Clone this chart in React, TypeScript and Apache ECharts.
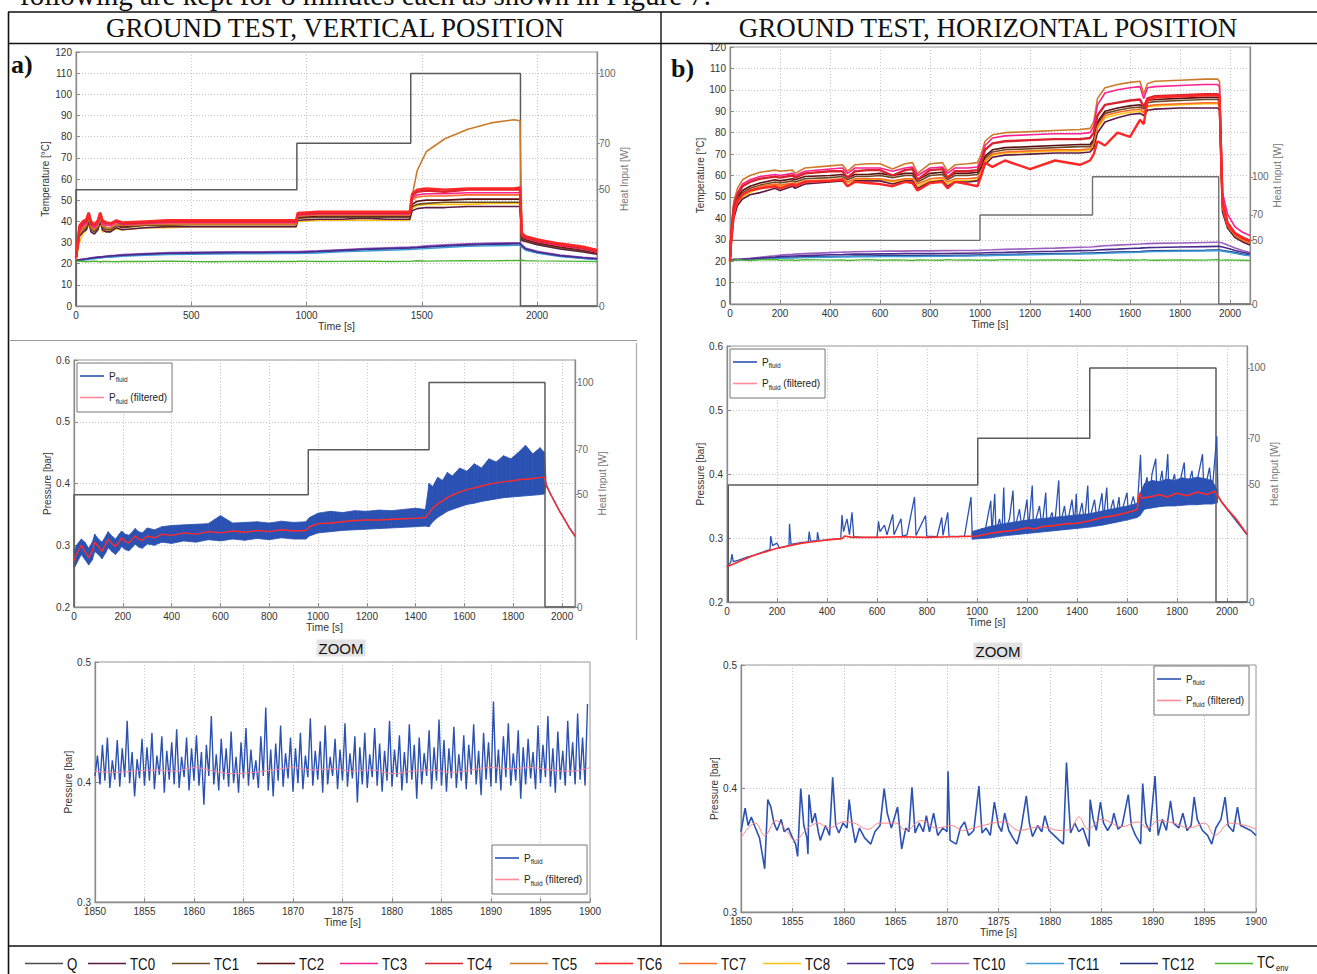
import React, { useEffect, useRef } from 'react';
import * as echarts from 'echarts';

const FONT = "'Liberation Sans', Arial, Helvetica, sans-serif";
const SERIF = "'Liberation Serif', 'Times New Roman', serif";

// ---------------- tick labels / categories ----------------
const HEAT_TICKS = [0, 50, 70, 100];
const LEGEND_NAMES = ['Q', 'TC0', 'TC1', 'TC2', 'TC3', 'TC4', 'TC5', 'TC6', 'TC7', 'TC8', 'TC9', 'TC10', 'TC11', 'TC12', 'TCenv'];

// ---------------- panel a (vertical, temperatures) ----------------
const QA_T = [0, 0, 958, 958, 1452, 1452, 1928, 1928, 2260];
const QA_V = [0, 50, 50, 70, 70, 100, 100, 0, 0];
const TA = [0, 15, 30, 45, 55, 65, 80, 95, 105, 115, 130, 150, 175, 200, 300, 400, 500, 600, 700, 800, 900, 955, 962, 1050, 1150, 1250, 1350, 1448, 1458, 1480, 1520, 1600, 1700, 1800, 1900, 1926, 1934, 1950, 2000, 2100, 2200, 2260];
const A_TC0 = [22, 33, 35, 36, 40, 35, 34, 36, 40, 36, 35, 35, 37, 36, 37, 37.5, 37.5, 37.5, 37.5, 37.5, 37.5, 37.5, 40.5, 41, 41, 41.5, 41, 41, 45, 46, 46.5, 46.5, 47, 47, 47, 47, 31, 30.5, 29, 27, 25.5, 24.5];
const A_TC1 = [22, 34, 36, 37, 41, 36, 35, 37, 41, 37, 36, 36, 38, 37, 38, 38, 38.5, 38.5, 38.5, 38.5, 38.5, 38.5, 41.5, 42, 42, 42, 42, 42, 47, 48, 48.5, 49, 49, 49, 49, 49, 32, 31, 29.5, 27.5, 26, 25];
const A_TC2 = [22, 35, 37, 38, 42, 37, 36, 38, 42, 38, 37, 37, 38.5, 37.5, 38.5, 38.5, 39, 39, 39, 39, 39, 39, 42, 42.5, 42.5, 42.5, 42.5, 42.5, 48, 49.5, 50, 50, 50.5, 50.5, 50.5, 50.5, 32.5, 31.5, 30, 28, 26.5, 25];
const A_TC3 = [23, 36, 38, 39, 43, 38, 37, 39, 43, 39, 38, 38, 39.5, 38.5, 39, 39.5, 39.5, 39.5, 39.5, 39.5, 39.5, 39.5, 43, 43.5, 43.5, 43.5, 43.5, 43.5, 51, 52.5, 53, 53, 53.5, 53.5, 53.5, 53.5, 33, 32, 30.5, 28.5, 27, 25.5];
const A_TC4 = [23, 37, 39, 40, 44, 39, 38, 40, 44, 40, 39, 39, 40, 39, 39.5, 40, 40, 40, 40, 40, 40, 40, 43.5, 44, 44, 44, 44, 44, 52, 54, 54.5, 54, 55, 55, 55, 55, 33.5, 32.5, 31, 29, 27.5, 26];
const A_TC5 = [22, 34, 36.5, 38, 42, 37, 36, 38, 42, 38, 37, 37, 38.5, 38, 38.5, 38.5, 38.5, 38.5, 38.5, 38.5, 38.5, 38.5, 42.5, 43, 43, 43, 43, 43, 52, 64, 73, 79, 83.5, 86.5, 88, 87.5, 35, 33, 31.5, 29, 27, 25.5];
const A_TC6 = [23, 38, 40, 41, 44, 40, 38.5, 40.5, 44, 40.5, 39.5, 39, 40.5, 39.5, 40, 40.5, 40.5, 40.5, 40.5, 40.5, 40.5, 40.5, 44, 44.5, 44.5, 44.5, 44.5, 44.5, 53, 55, 55.5, 55, 55.5, 55.5, 55.5, 56, 34, 33, 31.5, 29.5, 28, 26.5];
const A_TC7 = [22, 35, 37, 38.5, 42, 37.5, 36.5, 38, 42, 38, 37, 37, 38.5, 38, 38.5, 39, 39, 39, 39, 39, 39, 39, 42.5, 43, 43, 43, 43, 43, 50, 51.5, 52, 52, 52.5, 52.5, 52.5, 52.5, 33, 32, 30.5, 28.5, 27, 25.5];
const A_TC8 = [22, 30, 34, 36, 38, 41, 35, 36, 41, 35, 35.5, 35.5, 36.5, 36, 37, 37, 37.5, 37.5, 37.5, 37.5, 37.5, 37.5, 40, 40.5, 40.5, 40.5, 40.5, 40.5, 46, 47.5, 48, 48, 48, 48.5, 48.5, 48.5, 32, 31, 29.5, 27.5, 26, 25];
const A_TC9 = [21.5, 21.8, 22, 22.2, 22.4, 22.6, 22.8, 23, 23.1, 23.2, 23.4, 23.6, 23.8, 24, 24.5, 24.9, 25.1, 25.2, 25.3, 25.3, 25.4, 25.4, 25.4, 25.8, 26.3, 26.8, 27.2, 27.5, 27.6, 27.7, 28, 28.5, 29, 29.3, 29.5, 29.5, 28.5, 27, 25.5, 23.8, 22.8, 22.3];
const A_TC10 = [21.6, 21.9, 22.2, 22.4, 22.6, 22.8, 23, 23.2, 23.3, 23.4, 23.6, 23.8, 24, 24.3, 24.8, 25.2, 25.4, 25.5, 25.6, 25.6, 25.7, 25.7, 25.7, 26.1, 26.6, 27.1, 27.5, 27.8, 27.9, 28, 28.4, 28.9, 29.4, 29.7, 29.9, 29.9, 29, 27.4, 25.9, 24.1, 23, 22.5];
const A_TC11 = [21.3, 21.5, 21.7, 21.9, 22, 22.2, 22.4, 22.6, 22.7, 22.8, 23, 23.1, 23.3, 23.5, 24, 24.3, 24.5, 24.6, 24.7, 24.7, 24.8, 24.8, 24.8, 25.1, 25.6, 26, 26.4, 26.7, 26.8, 26.9, 27.2, 27.7, 28.2, 28.5, 28.7, 28.7, 27.8, 26.4, 25, 23.4, 22.5, 22];
const A_TC12 = [21.5, 21.7, 21.9, 22.1, 22.3, 22.5, 22.7, 22.9, 23, 23.1, 23.3, 23.5, 23.7, 23.9, 24.4, 24.8, 25, 25.1, 25.2, 25.2, 25.3, 25.3, 25.3, 25.7, 26.2, 26.7, 27.1, 27.4, 27.5, 27.6, 27.9, 28.4, 28.9, 29.2, 29.4, 29.4, 28.3, 26.8, 25.3, 23.6, 22.6, 22.1];
const A_TCENV = [21, 21.2, 21, 20.9, 21.1, 21, 21.2, 21, 20.8, 21, 21.1, 21, 20.9, 21.1, 21, 21.2, 21, 20.9, 21.1, 21, 21.1, 21, 21.2, 21, 21.1, 21.2, 21, 21.1, 21.2, 21.4, 21.2, 21.3, 21.4, 21.3, 21.5, 21.5, 21.6, 21.4, 21.3, 21.2, 21.1, 21.0];

// ---------------- panel b (horizontal, temperatures) ----------------
const QB_T = [0, 0, 1000, 1000, 1450, 1450, 1955, 1955, 2080];
const QB_V = [0, 50, 50, 70, 70, 100, 100, 0, 0];
const TB = [0, 5, 15, 30, 50, 80, 120, 180, 200, 250, 260, 300, 400, 450, 470, 500, 550, 600, 650, 700, 730, 750, 800, 850, 870, 900, 950, 990, 1005, 1020, 1050, 1100, 1200, 1300, 1400, 1440, 1455, 1470, 1500, 1550, 1600, 1640, 1655, 1670, 1700, 1800, 1900, 1950, 1958, 1970, 1990, 2020, 2050, 2080];
const B_TC0 = [20, 28, 40, 46, 49, 51, 52, 54, 53, 55, 54, 56, 57, 57.5, 55, 57.5, 57.5, 57.5, 56, 57.5, 57.5, 54, 57, 57.5, 55, 57, 57, 57.5, 60, 65, 68.5, 69.5, 70, 70.5, 70.5, 71, 73, 80, 85, 87, 88.5, 89, 88, 90.5, 91, 91.5, 91.5, 91.5, 90.5, 43, 35.5, 31, 29, 27.5];
const B_TC1 = [20, 31, 43, 49, 52, 54, 55.5, 57, 56.5, 57.5, 57, 58.5, 59, 59.5, 58, 59.5, 59.5, 60, 59, 60, 60, 57, 60, 60.5, 58, 60, 60, 60.5, 63, 68, 71, 72, 72.5, 73, 73.5, 73.5, 76, 84, 89, 90.5, 91.5, 92, 91, 94, 94.5, 95, 95.5, 95.5, 94.5, 45, 36.5, 32, 30, 28.5];
const B_TC2 = [20, 32, 44, 50, 53, 55, 56.5, 58, 57.5, 58.5, 58, 59.5, 60, 60.5, 59, 60.5, 60.5, 61, 60, 61, 61, 58, 61, 61.5, 59, 61, 61, 61.5, 64, 69, 72, 73, 73.5, 74, 74.5, 74.5, 77, 85, 90, 91.5, 92.5, 93, 92, 95, 95.5, 96, 96.5, 96.5, 95.5, 46, 37, 32.5, 30.5, 29];
const B_TC3 = [20, 34, 46, 52, 56, 58, 59.5, 60.5, 60, 61, 60, 62, 63, 63.5, 61, 63.5, 63.5, 63.5, 62, 63.5, 64, 60, 63.5, 64, 61, 63.5, 63.5, 64, 68, 74, 77.5, 78.5, 79, 79.5, 79.5, 80, 83, 93, 98.5, 100, 101, 101.5, 96, 101, 101.5, 102, 102.5, 102.5, 101.5, 52, 42, 36, 33.5, 32];
const B_TC4 = [20, 33, 45, 51, 55, 57, 58.5, 59.5, 59, 60, 59, 61, 62, 62, 59, 62, 62.5, 62.5, 60, 62.5, 63, 58, 62.5, 63, 59, 62, 62, 62.5, 66, 72, 75, 76, 76.5, 77, 77, 77.5, 80, 88, 93, 94, 95, 95.5, 92, 96, 97, 97.5, 98, 98, 97, 48, 38, 33, 31, 29.5];
const B_TC5 = [20, 35, 48, 54, 58, 60, 61.5, 62.5, 62, 62.5, 61, 63.5, 64.5, 65, 62, 65, 65.5, 65.5, 63, 65.5, 66, 61, 65.5, 66, 62, 65, 65.5, 66, 70, 76, 79, 80, 80.5, 81, 81.5, 82, 85, 96, 101, 102.5, 103.5, 104, 98, 103, 104, 104.5, 105, 105, 104, 48, 38, 33, 31, 29.5];
const B_TC6 = [20, 30, 42, 48, 51, 53, 54, 55, 54, 56, 55, 57, 57.5, 58, 55, 57, 56.5, 56, 55, 57, 56.5, 53, 56.5, 57, 54, 57, 56, 55, 60, 66, 64, 67, 63, 67, 65, 67, 70, 76, 74, 80, 78, 86, 84, 95, 96.5, 97, 97.5, 97.5, 96.5, 47, 37.5, 33, 31, 29.5];
const B_TC7 = [20, 30, 42, 48, 51, 53, 55, 56, 55.5, 56.5, 56, 57.5, 58, 58.5, 57, 58.5, 58.5, 58.5, 57.5, 58.5, 58.5, 56, 58.5, 59, 57, 58.5, 58.5, 59, 62, 67, 70, 71, 71.5, 72, 72, 72.5, 75, 83, 88, 89.5, 90.5, 91, 89.5, 92.5, 93, 93.5, 94, 94, 93, 45, 36.5, 32, 30, 28.5];
const B_TC8 = [20, 29, 41, 47, 50, 52, 54, 55.5, 55, 56, 55.5, 57, 57.5, 58, 56.5, 58, 58, 58, 57, 58, 58, 55, 57.5, 58, 56, 57.5, 57.5, 58, 61, 66, 69.5, 70.5, 71, 71.5, 71.5, 72, 74, 82, 87, 88.5, 89.5, 90, 89, 92, 92.5, 93, 93.5, 93.5, 92.5, 44, 36, 31.5, 29.5, 28];
const B_TC9 = [20.5, 20.6, 20.7, 20.8, 20.9, 21.1, 21.4, 21.9, 22.1, 22.4, 22.4, 22.6, 23, 23.1, 23.2, 23.3, 23.3, 23.4, 23.4, 23.5, 23.5, 23.5, 23.5, 23.6, 23.6, 23.7, 23.7, 23.8, 23.8, 23.9, 24, 24.1, 24.4, 24.6, 24.9, 25, 25, 25.2, 25.4, 25.6, 25.9, 26.1, 26.2, 26.3, 26.4, 26.6, 26.8, 26.9, 26.9, 26.6, 26, 25, 24.2, 23.5];
const B_TC10 = [20.5, 20.6, 20.7, 20.8, 21, 21.3, 21.8, 22.5, 22.8, 23.2, 23.3, 23.5, 24, 24.2, 24.3, 24.4, 24.5, 24.6, 24.7, 24.7, 24.8, 24.8, 24.8, 24.9, 24.9, 25, 25, 25, 25.1, 25.2, 25.3, 25.5, 25.8, 26.1, 26.5, 26.6, 26.7, 26.9, 27.2, 27.5, 27.8, 28, 28.1, 28.2, 28.3, 28.5, 28.7, 28.8, 28.8, 28.5, 27.5, 26.2, 25, 24];
const B_TC11 = [20.4, 20.5, 20.6, 20.7, 20.8, 20.9, 21, 21.3, 21.4, 21.5, 21.5, 21.7, 21.9, 22, 22, 22.1, 22.1, 22.2, 22.2, 22.2, 22.2, 22.2, 22.3, 22.3, 22.3, 22.4, 22.4, 22.5, 22.5, 22.6, 22.7, 22.8, 23, 23.2, 23.4, 23.5, 23.5, 23.6, 23.7, 23.9, 24.1, 24.2, 24.3, 24.4, 24.5, 24.7, 24.8, 24.9, 24.9, 24.7, 24.3, 23.7, 23, 22.5];
const B_TC12 = [20.5, 20.6, 20.7, 20.8, 20.9, 21, 21.2, 21.5, 21.6, 21.8, 21.8, 22, 22.2, 22.3, 22.3, 22.4, 22.4, 22.5, 22.5, 22.5, 22.5, 22.5, 22.6, 22.6, 22.6, 22.7, 22.7, 22.8, 22.8, 22.9, 23, 23.1, 23.3, 23.5, 23.7, 23.8, 23.8, 23.9, 24, 24.2, 24.4, 24.5, 24.6, 24.7, 24.8, 25, 25.1, 25.2, 25.2, 25, 24.6, 24, 23.3, 22.8];
const B_TCENV = [20.5, 20.6, 20.4, 20.7, 20.5, 20.3, 20.6, 20.8, 20.4, 20.6, 20.3, 20.7, 20.5, 20.6, 20.3, 20.5, 20.7, 20.4, 20.6, 20.5, 20.3, 20.6, 20.5, 20.4, 20.7, 20.5, 20.6, 20.4, 20.5, 20.6, 20.4, 20.7, 20.5, 20.6, 20.4, 20.5, 20.6, 20.5, 20.7, 20.4, 20.6, 20.5, 20.7, 20.5, 20.4, 20.6, 20.5, 20.7, 20.6, 20.5, 20.6, 20.5, 20.4, 20.3];

// ---------------- panel c (vertical, pressure) ----------------
const QC_T = [0, 0, 960, 960, 1455, 1455, 1930, 1930, 2053];
const QC_V = [0, 50, 50, 70, 70, 100, 100, 0, 0];
const PC_T = [0, 10, 30, 45, 60, 75, 85, 100, 115, 130, 140, 155, 170, 185, 195, 210, 225, 240, 250, 265, 280, 300, 330, 360, 400, 450, 500, 550, 600, 650, 700, 750, 800, 850, 900, 950, 965, 1000, 1050, 1100, 1150, 1200, 1250, 1300, 1350, 1400, 1440, 1455, 1470, 1490, 1510, 1530, 1550, 1580, 1610, 1640, 1670, 1700, 1730, 1760, 1790, 1820, 1850, 1880, 1910, 1928, 1935, 1950, 1970, 1990, 2010, 2030, 2053];
const PC_FILT = [0.275, 0.285, 0.30, 0.29, 0.28, 0.29, 0.305, 0.298, 0.29, 0.302, 0.31, 0.303, 0.298, 0.305, 0.312, 0.306, 0.304, 0.31, 0.315, 0.31, 0.308, 0.315, 0.312, 0.318, 0.316, 0.32, 0.318, 0.322, 0.32, 0.323, 0.321, 0.324, 0.322, 0.325, 0.323, 0.324, 0.33, 0.335, 0.336, 0.338, 0.34, 0.341, 0.341, 0.342, 0.343, 0.344, 0.345, 0.352, 0.36, 0.367, 0.372, 0.377, 0.381, 0.386, 0.39, 0.393, 0.396, 0.399, 0.401, 0.403, 0.404, 0.406, 0.407, 0.408, 0.41, 0.41, 0.398, 0.385, 0.37, 0.355, 0.342, 0.328, 0.315];
const PC_UP = [0.29, 0.30, 0.31, 0.305, 0.295, 0.305, 0.318, 0.31, 0.305, 0.315, 0.322, 0.315, 0.31, 0.318, 0.323, 0.318, 0.316, 0.322, 0.327, 0.322, 0.32, 0.328, 0.325, 0.33, 0.332, 0.333, 0.334, 0.335, 0.348, 0.336, 0.337, 0.338, 0.336, 0.339, 0.337, 0.338, 0.345, 0.352, 0.355, 0.353, 0.356, 0.355, 0.357, 0.356, 0.358, 0.36, 0.358, 0.40, 0.395, 0.41, 0.405, 0.418, 0.412, 0.425, 0.42, 0.432, 0.425, 0.44, 0.435, 0.445, 0.44, 0.45, 0.462, 0.448, 0.458, 0.45, 0.40, 0.386, 0.371, 0.356, 0.343, 0.329, 0.316];
const PC_LO = [0.262, 0.27, 0.285, 0.277, 0.268, 0.276, 0.29, 0.285, 0.278, 0.288, 0.296, 0.29, 0.285, 0.292, 0.298, 0.293, 0.291, 0.297, 0.302, 0.297, 0.295, 0.302, 0.30, 0.305, 0.303, 0.307, 0.305, 0.309, 0.307, 0.31, 0.308, 0.311, 0.309, 0.312, 0.31, 0.31, 0.315, 0.32, 0.322, 0.324, 0.325, 0.326, 0.327, 0.328, 0.329, 0.33, 0.331, 0.33, 0.338, 0.345, 0.35, 0.355, 0.358, 0.362, 0.366, 0.368, 0.371, 0.373, 0.375, 0.377, 0.378, 0.379, 0.38, 0.381, 0.382, 0.383, 0.396, 0.384, 0.369, 0.354, 0.341, 0.327, 0.314];

// ---------------- panel d (horizontal, pressure) ----------------
const QD_T = [5, 5, 1003, 1003, 1451, 1451, 1956, 1956, 2080];
const QD_V = [0, 50, 50, 70, 70, 100, 100, 0, 0];
const PD_RAW = [[0, 0.255], [15, 0.262], [20, 0.275], [25, 0.263], [50, 0.266], [80, 0.27], [100, 0.272], [150, 0.279], [172, 0.282], [175, 0.303], [182, 0.288], [200, 0.292], [210, 0.284], [248, 0.288], [250, 0.322], [256, 0.29], [300, 0.293], [325, 0.294], [329, 0.31], [334, 0.295], [360, 0.296], [362, 0.309], [368, 0.296], [400, 0.297], [455, 0.299], [460, 0.336], [466, 0.31], [480, 0.33], [490, 0.305], [500, 0.34], [507, 0.302], [540, 0.301], [600, 0.301], [606, 0.326], [612, 0.31], [630, 0.32], [640, 0.305], [663, 0.337], [668, 0.305], [696, 0.33], [702, 0.303], [720, 0.305], [750, 0.364], [756, 0.304], [794, 0.335], [799, 0.303], [840, 0.302], [859, 0.332], [864, 0.304], [883, 0.34], [888, 0.303], [920, 0.302], [950, 0.303], [976, 0.364], [981, 0.303], [1000, 0.304], [1020, 0.315], [1030, 0.306], [1055, 0.358], [1060, 0.308], [1071, 0.369], [1076, 0.308], [1090, 0.33], [1100, 0.309], [1107, 0.379], [1112, 0.31], [1130, 0.33], [1144, 0.374], [1150, 0.312], [1170, 0.345], [1180, 0.313], [1200, 0.36], [1206, 0.314], [1221, 0.382], [1226, 0.315], [1250, 0.35], [1260, 0.316], [1275, 0.371], [1280, 0.317], [1300, 0.34], [1310, 0.318], [1327, 0.39], [1332, 0.319], [1350, 0.35], [1360, 0.32], [1380, 0.36], [1390, 0.321], [1397, 0.369], [1402, 0.322], [1420, 0.355], [1430, 0.323], [1443, 0.382], [1448, 0.325], [1470, 0.36], [1480, 0.327], [1500, 0.37], [1506, 0.328], [1519, 0.379], [1525, 0.33], [1545, 0.36], [1555, 0.332], [1568, 0.364], [1574, 0.334], [1600, 0.371], [1606, 0.336], [1625, 0.365], [1640, 0.34], [1654, 0.43], [1660, 0.36], [1680, 0.395], [1690, 0.36], [1700, 0.40], [1715, 0.424], [1720, 0.362], [1740, 0.405], [1750, 0.364], [1763, 0.431], [1768, 0.365], [1790, 0.40], [1800, 0.366], [1829, 0.418], [1835, 0.367], [1860, 0.405], [1870, 0.368], [1902, 0.431], [1908, 0.369], [1930, 0.41], [1940, 0.37], [1959, 0.459], [1964, 0.365], [1980, 0.355], [2000, 0.345], [2020, 0.335], [2040, 0.325], [2060, 0.315], [2080, 0.305]];
const PD_FILT = [[0, 0.255], [100, 0.272], [200, 0.284], [300, 0.292], [400, 0.297], [460, 0.299], [470, 0.303], [500, 0.301], [600, 0.301], [700, 0.302], [800, 0.301], [900, 0.302], [1000, 0.303], [1050, 0.307], [1100, 0.31], [1150, 0.312], [1200, 0.316], [1230, 0.314], [1260, 0.318], [1300, 0.319], [1350, 0.322], [1400, 0.323], [1450, 0.327], [1500, 0.332], [1550, 0.335], [1600, 0.34], [1640, 0.344], [1650, 0.37], [1660, 0.362], [1700, 0.365], [1730, 0.368], [1760, 0.364], [1800, 0.37], [1840, 0.366], [1880, 0.372], [1920, 0.368], [1950, 0.373], [1965, 0.365], [1980, 0.356], [2000, 0.346], [2040, 0.328], [2080, 0.306]];
const PD_BAND_T = [980, 1050, 1100, 1150, 1200, 1250, 1300, 1350, 1400, 1450, 1500, 1550, 1600, 1640, 1652, 1670, 1700, 1730, 1760, 1790, 1820, 1850, 1880, 1910, 1940, 1962];
const PD_BAND_LO = [0.298, 0.30, 0.303, 0.305, 0.307, 0.309, 0.311, 0.313, 0.315, 0.317, 0.32, 0.324, 0.328, 0.332, 0.335, 0.345, 0.347, 0.349, 0.35, 0.35, 0.351, 0.352, 0.352, 0.353, 0.353, 0.355];
const PD_BAND_UP = [0.31, 0.318, 0.322, 0.325, 0.328, 0.33, 0.332, 0.334, 0.336, 0.338, 0.342, 0.346, 0.35, 0.354, 0.37, 0.385, 0.39, 0.388, 0.392, 0.39, 0.394, 0.392, 0.395, 0.393, 0.39, 0.375];

// ---------------- panel e (vertical, zoom) ----------------
const ZE_T0 = 1850;
const ZE_DT = 0.25;
const ZE_RAW = [
  0.405, 0.422, 0.398, 0.431, 0.401, 0.437, 0.395, 0.418, 0.402, 0.435, 0.396, 0.428, 0.404, 0.451, 0.399, 0.425, 0.388, 0.419, 0.403, 0.436,
  0.397, 0.429, 0.401, 0.441, 0.394, 0.422, 0.406, 0.438, 0.391, 0.426, 0.402, 0.433, 0.398, 0.444, 0.395, 0.421, 0.404, 0.437, 0.393, 0.428,
  0.401, 0.439, 0.397, 0.425, 0.381, 0.431, 0.405, 0.455, 0.398, 0.423, 0.393, 0.436, 0.402, 0.428, 0.396, 0.442, 0.399, 0.421, 0.391, 0.433,
  0.403, 0.445, 0.397, 0.427, 0.402, 0.418, 0.395, 0.438, 0.405, 0.462, 0.393, 0.427, 0.388, 0.432, 0.401, 0.447, 0.396, 0.424, 0.403, 0.437,
  0.392, 0.428, 0.399, 0.441, 0.394, 0.422, 0.404, 0.453, 0.397, 0.426, 0.402, 0.434, 0.391, 0.447, 0.398, 0.421, 0.405, 0.436, 0.394, 0.427,
  0.401, 0.449, 0.396, 0.424, 0.403, 0.438, 0.383, 0.429, 0.398, 0.441, 0.395, 0.423, 0.404, 0.445, 0.397, 0.432, 0.392, 0.426, 0.401, 0.451,
  0.396, 0.427, 0.404, 0.439, 0.393, 0.425, 0.399, 0.448, 0.402, 0.431, 0.386, 0.437, 0.398, 0.424, 0.405, 0.443, 0.394, 0.429, 0.401, 0.452,
  0.397, 0.435, 0.392, 0.428, 0.403, 0.446, 0.395, 0.423, 0.401, 0.439, 0.394, 0.431, 0.406, 0.448, 0.398, 0.426, 0.389, 0.441, 0.402, 0.433,
  0.396, 0.467, 0.399, 0.427, 0.393, 0.438, 0.404, 0.449, 0.397, 0.424, 0.401, 0.443, 0.386, 0.429, 0.398, 0.436, 0.403, 0.425, 0.394, 0.447,
  0.399, 0.431, 0.404, 0.455, 0.396, 0.428, 0.391, 0.442, 0.402, 0.426, 0.397, 0.451, 0.405, 0.433, 0.398, 0.457, 0.402, 0.437, 0.397, 0.465,
];
const ZE_FT0 = 1850;
const ZE_FDT = 2;
const ZE_FILT = [0.409, 0.408, 0.409, 0.410, 0.409, 0.412, 0.409, 0.407, 0.408, 0.410, 0.412, 0.410, 0.411, 0.409, 0.410, 0.407, 0.409, 0.410, 0.408, 0.410, 0.412, 0.411, 0.412, 0.410, 0.409, 0.412];

// ---------------- panel f (horizontal, zoom) ----------------
const ZF_RAW = [[1850, 0.365], [1850.4, 0.384], [1850.7, 0.37], [1851, 0.377], [1851.4, 0.368], [1851.8, 0.36], [1852.1, 0.345], [1852.3, 0.335], [1852.6, 0.391], [1852.9, 0.385], [1853.2, 0.372], [1853.5, 0.366], [1853.9, 0.375], [1854.2, 0.365], [1854.6, 0.368], [1855, 0.36], [1855.3, 0.355], [1855.5, 0.345], [1855.8, 0.40], [1856.1, 0.37], [1856.4, 0.36], [1856.5, 0.347], [1856.6, 0.395], [1856.9, 0.372], [1857.2, 0.38], [1857.5, 0.365], [1857.7, 0.358], [1858.2, 0.37], [1858.6, 0.362], [1858.9, 0.409], [1859.2, 0.37], [1859.5, 0.364], [1859.9, 0.372], [1860.3, 0.368], [1860.5, 0.391], [1860.8, 0.37], [1861.1, 0.356], [1861.5, 0.368], [1862, 0.36], [1862.6, 0.355], [1863, 0.365], [1863.5, 0.37], [1863.9, 0.40], [1864.2, 0.38], [1864.6, 0.368], [1865.2, 0.385], [1865.6, 0.351], [1866, 0.368], [1866.3, 0.365], [1866.6, 0.401], [1866.9, 0.364], [1867.3, 0.372], [1867.7, 0.365], [1868, 0.378], [1868.3, 0.365], [1868.7, 0.38], [1869.1, 0.362], [1869.6, 0.368], [1870, 0.365], [1870.1, 0.414], [1870.3, 0.358], [1870.9, 0.355], [1871.3, 0.368], [1871.7, 0.373], [1872.1, 0.362], [1872.6, 0.366], [1873.1, 0.402], [1873.4, 0.364], [1873.8, 0.368], [1874.2, 0.362], [1874.6, 0.389], [1875, 0.37], [1875.3, 0.365], [1875.6, 0.38], [1876, 0.366], [1876.4, 0.36], [1876.8, 0.355], [1877.2, 0.368], [1877.7, 0.394], [1878, 0.372], [1878.3, 0.361], [1878.8, 0.37], [1879.2, 0.365], [1879.5, 0.378], [1879.9, 0.366], [1880.4, 0.362], [1880.9, 0.358], [1881.3, 0.355], [1881.6, 0.421], [1881.8, 0.39], [1882, 0.364], [1882.4, 0.372], [1882.8, 0.365], [1883.2, 0.368], [1883.8, 0.353], [1883.9, 0.391], [1884.2, 0.375], [1884.5, 0.366], [1884.9, 0.389], [1885.2, 0.372], [1885.6, 0.366], [1886, 0.372], [1886.2, 0.38], [1886.6, 0.367], [1887, 0.37], [1887.6, 0.395], [1887.9, 0.37], [1888.3, 0.362], [1888.8, 0.355], [1889, 0.404], [1889.3, 0.372], [1889.7, 0.365], [1890.2, 0.41], [1890.5, 0.362], [1890.9, 0.375], [1891.3, 0.366], [1891.7, 0.39], [1892, 0.372], [1892.5, 0.368], [1892.9, 0.38], [1893.3, 0.366], [1893.7, 0.37], [1894, 0.393], [1894.3, 0.375], [1894.8, 0.366], [1895.3, 0.362], [1895.7, 0.355], [1896.1, 0.368], [1896.6, 0.375], [1897, 0.393], [1897.3, 0.37], [1897.8, 0.365], [1898.2, 0.385], [1898.5, 0.37], [1899, 0.368], [1899.5, 0.366], [1900, 0.362]];
const ZF_FILT = [[1850, 0.36], [1851.4, 0.372], [1852.3, 0.362], [1853.4, 0.374], [1854.5, 0.365], [1855.2, 0.358], [1856.5, 0.368], [1857.5, 0.372], [1858.5, 0.368], [1860, 0.373], [1861, 0.372], [1862.3, 0.367], [1863.5, 0.372], [1865, 0.372], [1866, 0.366], [1867.5, 0.374], [1869, 0.368], [1870.5, 0.37], [1871.5, 0.366], [1873, 0.369], [1875.5, 0.373], [1877, 0.366], [1879, 0.369], [1881, 0.366], [1882, 0.367], [1882.8, 0.377], [1883.7, 0.367], [1885, 0.375], [1887, 0.369], [1888.5, 0.373], [1889.5, 0.368], [1890.5, 0.374], [1892, 0.372], [1893.5, 0.368], [1895, 0.372], [1896, 0.362], [1897.5, 0.372], [1899, 0.37], [1900, 0.367]];

// ---------------- styles ----------------
const COLORS: Record<string, string> = {
  Q: '#4d4d4d', TC0: '#5b1a40', TC1: '#6b4a26', TC2: '#5c1010', TC3: '#ff1f8e', TC4: '#d9232e', TC5: '#cc7a29',
  TC6: '#ff2626', TC7: '#ff6b26', TC8: '#ffc20e', TC9: '#4a2a8c', TC10: '#9b5fc0', TC11: '#3d9ad6', TC12: '#1f2d7a', TCenv: '#4cb530',
};
const P_BLUE = '#2b52b3';
const P_RED = '#ff2a2a';
const DRAW_ORDER = ['TC12', 'TC11', 'TC10', 'TC9', 'TCenv', 'TC8', 'TC0', 'TC1', 'TC2', 'TC7', 'TC5', 'TC3', 'TC4', 'TC6'];
const LEGEND_X = [25, 88, 172, 257, 340, 425, 510, 595, 679, 763, 847, 931, 1026, 1120, 1215];

const pairs = (ts: number[], vs: number[]) => ts.map((t, i) => [t, vs[i]]);

function lineS(name: string, xi: number, yi: number, data: any[], color: string, width: number, extra: any = {}) {
  return {
    type: 'line', name, xAxisIndex: xi, yAxisIndex: yi, data, symbol: 'none', showSymbol: false,
    lineStyle: { color, width }, itemStyle: { color }, emphasis: { disabled: true }, ...extra,
  };
}

// filled band between a lower and an upper envelope (custom series, one quad per segment)
function bandS(xi: number, yi: number, ts: number[], lo: number[], up: number[], color: string) {
  const data = ts.slice(0, -1).map((t, i) => [t, lo[i], up[i], ts[i + 1], lo[i + 1], up[i + 1]]);
  return {
    type: 'custom', name: 'P_fluid band', xAxisIndex: xi, yAxisIndex: yi, data, silent: true,
    encode: { x: [0, 3], y: [1, 2, 4, 5] },
    renderItem: (_p: any, api: any) => {
      const a = api.coord([api.value(0), api.value(1)]);
      const b = api.coord([api.value(3), api.value(4)]);
      const c = api.coord([api.value(3), api.value(5)]);
      const d = api.coord([api.value(0), api.value(2)]);
      return { type: 'polygon', shape: { points: [a, b, c, d] }, style: { fill: color, stroke: color, lineWidth: 0.8 } };
    },
  };
}

const SPLIT = { show: true, lineStyle: { color: '#c4c4c4', type: [1, 2], width: 1 } };

function xAx(grid: number, min: number, max: number, interval: number, gap: number, showMax: boolean) {
  return {
    gridIndex: grid, type: 'value', min, max, interval,
    name: 'Time [s]', nameLocation: 'middle', nameGap: gap,
    nameTextStyle: { fontSize: 10.5, color: '#333', fontFamily: FONT },
    axisLine: { show: true, onZero: false, lineStyle: { color: '#8a8a8a', width: 1.3 } },
    axisTick: { show: true, inside: true, length: 4, lineStyle: { color: '#8a8a8a' } },
    axisLabel: { fontSize: 10, color: '#333', fontFamily: FONT, margin: 4, showMaxLabel: showMax, formatter: (v: number) => String(v) },
    splitLine: SPLIT,
  };
}

function yAx(grid: number, min: number, max: number, interval: number, name: string, gap: number, dec: number) {
  return {
    gridIndex: grid, type: 'value', min, max, interval, position: 'left',
    name, nameLocation: 'middle', nameGap: gap,
    nameTextStyle: { fontSize: 10, color: '#333', fontFamily: FONT },
    axisLine: { show: true, onZero: false, lineStyle: { color: '#8a8a8a', width: 1.3 } },
    axisTick: { show: true, inside: true, length: 4, lineStyle: { color: '#8a8a8a' } },
    axisLabel: { fontSize: 10, color: '#333', fontFamily: FONT, margin: 4, formatter: (v: number) => v.toFixed(dec) },
    splitLine: SPLIT,
  };
}

function yHeat(grid: number, max: number, gap: number) {
  return {
    gridIndex: grid, type: 'value', min: 0, max, position: 'right',
    name: 'Heat Input [W]', nameLocation: 'middle', nameGap: gap,
    nameTextStyle: { fontSize: 10, color: '#777', fontFamily: FONT },
    axisLine: { show: true, onZero: false, lineStyle: { color: '#8a8a8a', width: 1.3 } },
    axisTick: { show: true, inside: false, length: 3, customValues: HEAT_TICKS, lineStyle: { color: '#8a8a8a' } },
    axisLabel: { fontSize: 10, color: '#666', fontFamily: FONT, margin: 2, customValues: HEAT_TICKS },
    splitLine: { show: false },
  };
}

function pLegend(pos: any) {
  return {
    ...pos, orient: 'vertical', data: ['P_fluid', 'P_fluid (filtered)'],
    icon: 'rect', itemWidth: 24, itemHeight: 1.6, itemGap: 9, padding: [8, 5, 7, 3],
    borderColor: '#777', borderWidth: 1, backgroundColor: '#fff', selectedMode: false,
    textStyle: { fontSize: 10, color: '#222', fontFamily: FONT, rich: { s: { fontSize: 6.5, fontFamily: FONT, color: '#222', padding: [8, 0, 0, 0] } } },
    formatter: (n: string) => (n === 'P_fluid' ? 'P{s|fluid}' : 'P{s|fluid} (filtered)'),
  };
}

function buildOption() {
  const A_DATA: Record<string, number[]> = {
    TC0: A_TC0, TC1: A_TC1, TC2: A_TC2, TC3: A_TC3, TC4: A_TC4, TC5: A_TC5, TC6: A_TC6, TC7: A_TC7,
    TC8: A_TC8, TC9: A_TC9, TC10: A_TC10, TC11: A_TC11, TC12: A_TC12, TCenv: A_TCENV,
  };
  const B_DATA: Record<string, number[]> = {
    TC0: B_TC0, TC1: B_TC1, TC2: B_TC2, TC3: B_TC3, TC4: B_TC4, TC5: B_TC5, TC6: B_TC6, TC7: B_TC7,
    TC8: B_TC8, TC9: B_TC9, TC10: B_TC10, TC11: B_TC11, TC12: B_TC12, TCenv: B_TCENV,
  };
  const widthOf = (n: string) => (n === 'TC4' || n === 'TC6' ? 2.4 : n === 'TCenv' ? 1.4 : 1.6);

  const series: any[] = [];
  // zoom panels first (legend picks the first series of a name)
  series.push(lineS('P_fluid', 4, 8, ZE_RAW.map((v, i) => [ZE_T0 + i * ZE_DT, v]), P_BLUE, 1.4));
  series.push(lineS('P_fluid (filtered)', 4, 8, ZE_FILT.map((v, i) => [ZE_FT0 + i * ZE_FDT, v]), '#ff8a9a', 1, { smooth: 0.4 }));
  series.push(lineS('P_fluid', 5, 9, ZF_RAW, P_BLUE, 1.6));
  series.push(lineS('P_fluid (filtered)', 5, 9, ZF_FILT, '#ff8080', 1, { smooth: 0.4 }));

  // panel a
  series.push(lineS('Q', 0, 1, pairs(QA_T, QA_V), '#5a5a5a', 1.5));
  DRAW_ORDER.forEach((n) => series.push(lineS(n, 0, 0, pairs(TA, A_DATA[n]), COLORS[n], widthOf(n))));
  // panel b
  series.push(lineS('Q', 1, 3, pairs(QB_T, QB_V), '#707070', 1.4));
  DRAW_ORDER.forEach((n) => series.push(lineS(n, 1, 2, pairs(TB, B_DATA[n]), COLORS[n], widthOf(n))));

  // panel c
  series.push(lineS('Q', 2, 5, pairs(QC_T, QC_V), '#5a5a5a', 1.5));
  series.push(bandS(2, 4, PC_T, PC_LO, PC_UP, P_BLUE));
  series.push(lineS('P_fluid (filtered)', 2, 4, pairs(PC_T, PC_FILT), P_RED, 1.4));

  // panel d
  series.push(lineS('Q', 3, 7, pairs(QD_T, QD_V), '#5a5a5a', 1.5));
  series.push(bandS(3, 6, PD_BAND_T, PD_BAND_LO, PD_BAND_UP, P_BLUE));
  series.push(lineS('P_fluid', 3, 6, PD_RAW, P_BLUE, 1.3));
  series.push(lineS('P_fluid (filtered)', 3, 6, PD_FILT, P_RED, 1.6));

  // ------------- graphic -------------
  const g: any[] = [];
  const ln = (x1: number, y1: number, x2: number, y2: number, stroke = '#111', w = 1.5) =>
    g.push({ type: 'line', shape: { x1, y1, x2, y2 }, style: { stroke, lineWidth: w }, silent: true });
  const tx = (x: number, y: number, text: string, style: any, extra: any = {}) =>
    g.push({ type: 'text', x, y, silent: true, ...extra, style: { text, ...style } });

  tx(20, 9, 'following are kept for 8 minutes each as shown in Figure 7.', { fontSize: 29, fontFamily: SERIF, fill: '#111', verticalAlign: 'bottom' });
  ln(8, 12, 1317, 12, '#111', 1.6);
  ln(8, 43.5, 1317, 43.5, '#111', 1.3);
  ln(8.5, 12, 8.5, 974, '#111', 1.6);
  ln(661, 12, 661, 946, '#111', 1.4);
  ln(8, 946, 1317, 946, '#111', 1.6);
  ln(10, 340.5, 637, 340.5, '#9a9a9a', 1.2);
  ln(636.5, 343, 636.5, 640, '#aaaaaa', 1.2);
  tx(335, 28, 'GROUND TEST, VERTICAL POSITION', { fontSize: 27, fontFamily: SERIF, fill: '#111', align: 'center', verticalAlign: 'middle' });
  tx(988, 28, 'GROUND TEST, HORIZONTAL POSITION', { fontSize: 27, fontFamily: SERIF, fill: '#111', align: 'center', verticalAlign: 'middle' });
  tx(11, 64, 'a)', { fontSize: 26, fontWeight: 'bold', fontFamily: SERIF, fill: '#111', verticalAlign: 'middle' });
  tx(671, 68, 'b)', { fontSize: 26, fontWeight: 'bold', fontFamily: SERIF, fill: '#111', verticalAlign: 'middle' });
  tx(341, 648, 'ZOOM', { fontSize: 15, fontFamily: FONT, fill: '#111', align: 'center', verticalAlign: 'middle', backgroundColor: '#e3e3e3', padding: [1, 2] });
  tx(998, 651, 'ZOOM', { fontSize: 15, fontFamily: FONT, fill: '#111', align: 'center', verticalAlign: 'middle', backgroundColor: '#e3e3e3', padding: [1, 2] });

  LEGEND_NAMES.forEach((n, i) => {
    const x0 = LEGEND_X[i];
    ln(x0, 963.5, x0 + 38, 963.5, COLORS[n], 1.6);
    if (n === 'TCenv') {
      tx(x0 + 42, 962, 'TC', { fontSize: 17, fontFamily: FONT, fill: '#111', verticalAlign: 'middle' }, { scaleX: 0.78 });
      tx(x0 + 61, 968, 'env', { fontSize: 9, fontFamily: FONT, fill: '#111', verticalAlign: 'middle' }, { scaleX: 0.85 });
    } else {
      tx(x0 + 42, 964, n, { fontSize: 17, fontFamily: FONT, fill: '#111', verticalAlign: 'middle' }, { scaleX: 0.78 });
    }
  });

  const gridBase = { show: true, borderColor: '#999', borderWidth: 1, backgroundColor: 'transparent', containLabel: false };

  return {
    animation: false,
    backgroundColor: '#fff',
    grid: [
      { ...gridBase, left: 76, top: 52, width: 521, height: 254 },
      { ...gridBase, left: 730, top: 47, width: 520, height: 257 },
      { ...gridBase, left: 74, top: 360, width: 501, height: 247 },
      { ...gridBase, left: 727, top: 346, width: 520, height: 256 },
      { ...gridBase, left: 95, top: 662, width: 495, height: 240 },
      { ...gridBase, left: 741, top: 665, width: 515, height: 247 },
    ],
    xAxis: [
      xAx(0, 0, 2260, 500, 14, false),
      xAx(1, 0, 2080, 200, 14, false),
      xAx(2, 0, 2053, 200, 13, false),
      xAx(3, 0, 2080, 200, 14, false),
      xAx(4, 1850, 1900, 5, 14, true),
      xAx(5, 1850, 1900, 5, 14, true),
    ],
    yAxis: [
      yAx(0, 0, 120, 10, 'Temperature [°C]', 26, 0),
      yHeat(0, 109.2, 22),
      yAx(1, 0, 120, 10, 'Temperature [°C]', 25, 0),
      yHeat(1, 202, 22),
      yAx(2, 0.2, 0.6, 0.1, 'Pressure [bar]', 22, 1),
      yHeat(2, 110, 21),
      yAx(3, 0.2, 0.6, 0.1, 'Pressure [bar]', 22, 1),
      yHeat(3, 109.4, 22),
      yAx(4, 0.3, 0.5, 0.1, 'Pressure [bar]', 22, 1),
      yAx(5, 0.3, 0.5, 0.1, 'Pressure [bar]', 22, 1),
    ],
    legend: [
      pLegend({ left: 77, top: 363 }),
      pLegend({ left: 730, top: 349 }),
      pLegend({ left: 492, top: 845 }),
      pLegend({ left: 1154, top: 666 }),
    ],
    series,
    graphic: { elements: g },
  };
}

export default function App() {
  const ref = useRef<HTMLDivElement>(null);
  useEffect(() => {
    const chart = echarts.init(ref.current as HTMLDivElement, undefined, { renderer: 'svg', width: 1317, height: 974 });
    chart.setOption(buildOption() as any);
    return () => chart.dispose();
  }, []);
  return <div ref={ref} style={{ position: 'fixed', left: 0, top: 0, width: 1317, height: 974, background: '#fff' }} />;
}
